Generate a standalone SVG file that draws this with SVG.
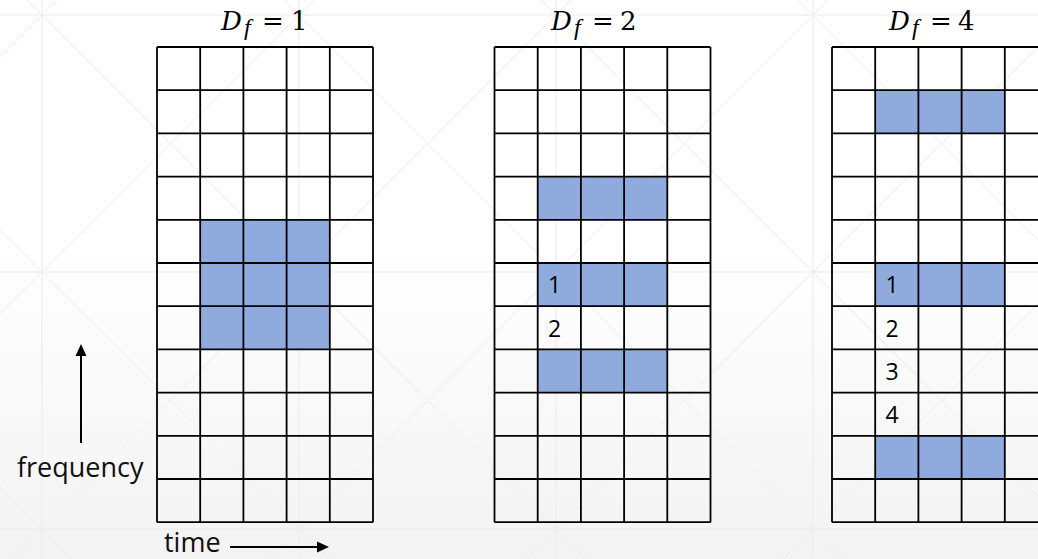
<svg xmlns="http://www.w3.org/2000/svg" width="1038" height="559" viewBox="0 0 1038 559">
<defs>
<linearGradient id="bg" x1="0" y1="0" x2="0" y2="1">
<stop offset="0.42" stop-color="#ffffff"/>
<stop offset="1" stop-color="#f3f3f3"/>
</linearGradient>
</defs>
<style>
.bgl{stroke:#ebebeb;stroke-width:1;fill:none}
.grid{stroke:#000;stroke-width:1.8;fill:none}
.blue{fill:#8FAADC}
.num{font-family:"Open Sans",sans-serif;font-size:23px;fill:#000}
.lbl{font-family:"Open Sans",sans-serif;font-size:27px;fill:#111}
.ttl{font-family:"DejaVu Serif",serif;font-size:26px;fill:#000}
.sub{font-family:"Liberation Serif",serif;font-size:24px;font-style:italic}
.conn{stroke:#000;stroke-width:2;fill:none}
.head{fill:#000}
</style>
<rect width="1038" height="559" fill="url(#bg)"/>
<g id="background-pattern" class="bgl">
<path d="M42,0V559M299,0V559M556,0V559M813,0V559M0,15H1038M0,272H1038M0,529H1038"/>
<path d="M0,-1055L1614,559M0,-798L1357,559M0,-541L1100,559M0,-284L843,559M0,-27L586,559M0,230L329,559M0,487L72,559M27,0L1038,1011M284,0L1038,754M541,0L1038,497M798,0L1038,240"/>
<path d="M57,0L0,57M314,0L0,314M571,0L0,571M828,0L269,559M1085,0L526,559M1342,0L783,559M1599,0L1040,559"/>
</g>
<g id="grid-df1">
<rect class="blue" x="200.2" y="219.8" width="129.6" height="129.6"/>
<path class="grid" d="M157,47H373M157,90.2H373M157,133.4H373M157,176.6H373M157,219.8H373M157,263H373M157,306.2H373M157,349.4H373M157,392.6H373M157,435.8H373M157,479H373M157,522.2H373M157,47V522.2M200.2,47V522.2M243.4,47V522.2M286.6,47V522.2M329.8,47V522.2M373,47V522.2"/>
<text class="ttl"><tspan x="221" y="30" font-style="italic">D</tspan><tspan class="sub" x="244" y="35">f</tspan><tspan x="262" y="30">=</tspan><tspan x="291" y="30">1</tspan></text>
</g>
<g id="grid-df2">
<rect class="blue" x="537.7" y="176.6" width="129.6" height="43.2"/>
<rect class="blue" x="537.7" y="263" width="129.6" height="43.2"/>
<rect class="blue" x="537.7" y="349.4" width="129.6" height="43.2"/>
<path class="grid" d="M494.5,47H710.5M494.5,90.2H710.5M494.5,133.4H710.5M494.5,176.6H710.5M494.5,219.8H710.5M494.5,263H710.5M494.5,306.2H710.5M494.5,349.4H710.5M494.5,392.6H710.5M494.5,435.8H710.5M494.5,479H710.5M494.5,522.2H710.5M494.5,47V522.2M537.7,47V522.2M580.9,47V522.2M624.1,47V522.2M667.3,47V522.2M710.5,47V522.2"/>
<text class="num" x="548" y="293.3">1</text>
<text class="num" x="548" y="336.5">2</text>
<text class="ttl"><tspan x="551" y="30" font-style="italic">D</tspan><tspan class="sub" x="574" y="35">f</tspan><tspan x="592" y="30">=</tspan><tspan x="620" y="30">2</tspan></text>
</g>
<g id="grid-df4">
<rect class="blue" x="875.2" y="90.2" width="129.6" height="43.2"/>
<rect class="blue" x="875.2" y="263" width="129.6" height="43.2"/>
<rect class="blue" x="875.2" y="435.8" width="129.6" height="43.2"/>
<path class="grid" d="M832,47H1048M832,90.2H1048M832,133.4H1048M832,176.6H1048M832,219.8H1048M832,263H1048M832,306.2H1048M832,349.4H1048M832,392.6H1048M832,435.8H1048M832,479H1048M832,522.2H1048M832,47V522.2M875.2,47V522.2M918.4,47V522.2M961.6,47V522.2M1004.8,47V522.2"/>
<text class="num" x="885.5" y="293.3">1</text>
<text class="num" x="885.5" y="336.5">2</text>
<text class="num" x="885.5" y="379.7">3</text>
<text class="num" x="885.5" y="422.9">4</text>
<text class="ttl"><tspan x="889" y="30" font-style="italic">D</tspan><tspan class="sub" x="912" y="35">f</tspan><tspan x="930" y="30">=</tspan><tspan x="958" y="30">4</tspan></text>
</g>
<g id="axis-labels">
<text class="lbl" x="17" y="477">frequency</text>
<text class="lbl" x="164" y="552">time</text>
</g>
<g id="connectors">
<line class="conn" x1="81" y1="443" x2="81" y2="354"/>
<polygon class="head" points="81,344 75.5,356 86.5,356"/>
<line class="conn" x1="230" y1="547" x2="319" y2="547"/>
<polygon class="head" points="329,547 317,541.5 317,552.5"/>
</g>
</svg>
